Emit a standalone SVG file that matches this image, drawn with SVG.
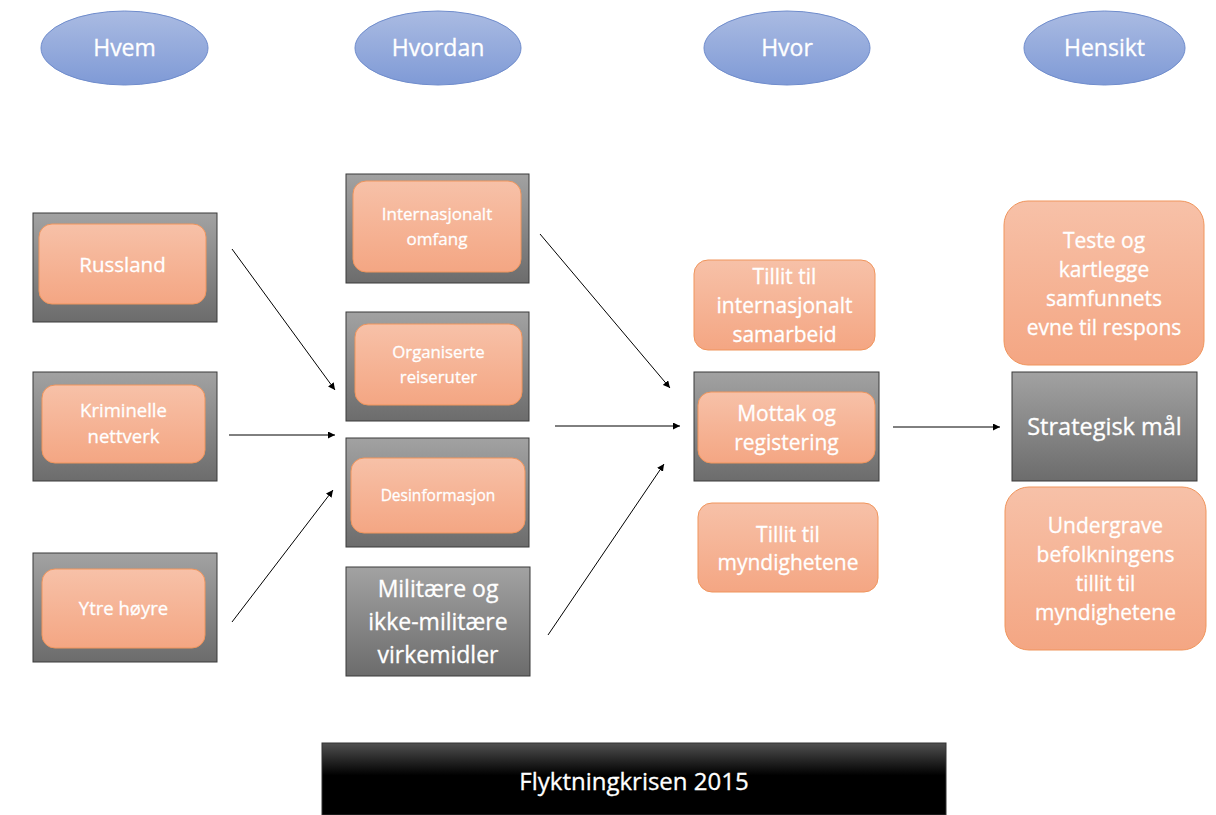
<svg xmlns="http://www.w3.org/2000/svg" width="1216" height="815" viewBox="0 0 1216 815">
<defs>
<linearGradient id="gGray" x1="0" y1="0" x2="0" y2="1"><stop offset="0" stop-color="#a2a2a2"/><stop offset="1" stop-color="#6c6c6c"/></linearGradient>
<linearGradient id="gOr" x1="0" y1="0" x2="0" y2="1"><stop offset="0" stop-color="#f7c1a8"/><stop offset="1" stop-color="#f4a683"/></linearGradient>
<linearGradient id="gBl" x1="0" y1="0" x2="0" y2="1"><stop offset="0" stop-color="#aabbe2"/><stop offset="1" stop-color="#7f9ad6"/></linearGradient>
<linearGradient id="gBk" x1="0" y1="0" x2="0" y2="1"><stop offset="0" stop-color="#505050"/><stop offset="0.45" stop-color="#000"/><stop offset="1" stop-color="#000"/></linearGradient>
<marker id="ah" viewBox="0 0 10 10" refX="10" refY="5" markerWidth="7" markerHeight="7" orient="auto" markerUnits="userSpaceOnUse"><path d="M0,0 L10,5 L0,10 z" fill="#000"/></marker>
</defs>
<style>
.gray{fill:url(#gGray);stroke:#3a3a3a;stroke-width:1}
.or{fill:url(#gOr);stroke:#f0955c;stroke-width:1}
.el{fill:url(#gBl);stroke:#6f8ccc;stroke-width:1}
.t{font-family:"Open Sans","Liberation Sans",sans-serif;fill:#fff;stroke:#fff;stroke-width:0.3;text-anchor:middle}
.conn line{stroke:#000;stroke-width:1;marker-end:url(#ah)}
</style>
<rect width="1216" height="815" fill="#fff"/>

<g id="hvem"><ellipse class="el" cx="124.5" cy="48" rx="83.5" ry="37"/><text class="t" x="124.5" y="56" font-size="23">Hvem</text></g>
<g id="hvordan"><ellipse class="el" cx="438" cy="48" rx="83" ry="37"/><text class="t" x="438" y="56" font-size="23">Hvordan</text></g>
<g id="hvor"><ellipse class="el" cx="787" cy="48" rx="83" ry="37"/><text class="t" x="787" y="56" font-size="23">Hvor</text></g>
<g id="hensikt"><ellipse class="el" cx="1104.5" cy="48" rx="80.5" ry="37"/><text class="t" x="1104.5" y="56" font-size="23">Hensikt</text></g>

<g id="russland"><rect class="gray" x="33" y="213" width="184" height="109"/><rect class="or" x="39" y="224" width="167" height="80" rx="13"/><text class="t" x="122.5" y="272" font-size="20.5">Russland</text></g>
<g id="kriminelle"><rect class="gray" x="33" y="372" width="184" height="109"/><rect class="or" x="42" y="385" width="163" height="78" rx="13"/><text class="t" x="123.5" y="417" font-size="18.5">Kriminelle</text><text class="t" x="123.5" y="443" font-size="18.5">nettverk</text></g>
<g id="ytre"><rect class="gray" x="33" y="553" width="184" height="109"/><rect class="or" x="42" y="569" width="163" height="79" rx="13"/><text class="t" x="123.5" y="615" font-size="18.5">Ytre høyre</text></g>

<g id="internasjonalt"><rect class="gray" x="346" y="174" width="183" height="109"/><rect class="or" x="353" y="181" width="168" height="91" rx="13"/><text class="t" x="437" y="220" font-size="17">Internasjonalt</text><text class="t" x="437" y="245" font-size="17">omfang</text></g>
<g id="organiserte"><rect class="gray" x="346" y="312" width="183" height="109"/><rect class="or" x="355" y="324" width="167" height="81" rx="13"/><text class="t" x="438.5" y="358" font-size="16.8">Organiserte</text><text class="t" x="438.5" y="383" font-size="16.8">reiseruter</text></g>
<g id="desinformasjon"><rect class="gray" x="346" y="438" width="183" height="109"/><rect class="or" x="351" y="458" width="174" height="75" rx="13"/><text class="t" x="438" y="501" font-size="15.5">Desinformasjon</text></g>
<g id="militaere"><rect class="gray" x="346" y="567" width="184" height="109"/><text class="t" x="438" y="597" font-size="23">Militære og</text><text class="t" x="438" y="630" font-size="23">ikke-militære</text><text class="t" x="438" y="663" font-size="23">virkemidler</text></g>

<g id="tillit-int"><rect class="or" x="694" y="260" width="181" height="90" rx="14"/><text class="t" x="784.5" y="284" font-size="21">Tillit til</text><text class="t" x="784.5" y="313" font-size="21">internasjonalt</text><text class="t" x="784.5" y="342" font-size="21">samarbeid</text></g>
<g id="mottak"><rect class="gray" x="694" y="372" width="185" height="109"/><rect class="or" x="698" y="392" width="177" height="71" rx="13"/><text class="t" x="786.5" y="421" font-size="21">Mottak og</text><text class="t" x="786.5" y="450" font-size="21">registering</text></g>
<g id="tillit-myn"><rect class="or" x="698" y="503" width="180" height="89" rx="14"/><text class="t" x="788" y="542" font-size="21">Tillit til</text><text class="t" x="788" y="570" font-size="21">myndighetene</text></g>

<g id="teste"><rect class="or" x="1004" y="201" width="200" height="164" rx="24"/><text class="t" x="1104" y="248" font-size="21">Teste og</text><text class="t" x="1104" y="277" font-size="21">kartlegge</text><text class="t" x="1104" y="306" font-size="21">samfunnets</text><text class="t" x="1104" y="335" font-size="21">evne til respons</text></g>
<g id="strategisk"><rect class="gray" x="1012" y="372" width="185" height="109"/><text class="t" x="1104.5" y="435" font-size="23.5">Strategisk mål</text></g>
<g id="undergrave"><rect class="or" x="1005" y="487" width="201" height="163" rx="24"/><text class="t" x="1105.5" y="533" font-size="21">Undergrave</text><text class="t" x="1105.5" y="562" font-size="21">befolkningens</text><text class="t" x="1105.5" y="591" font-size="21">tillit til</text><text class="t" x="1105.5" y="620" font-size="21">myndighetene</text></g>

<g id="flyktningkrisen"><rect x="322" y="743" width="624" height="72" fill="url(#gBk)" stroke="#333" stroke-width="1"/><text class="t" x="634" y="790" font-size="24">Flyktningkrisen 2015</text></g>

<g id="connectors" class="conn">
<line x1="232" y1="249" x2="335" y2="390"/>
<line x1="229" y1="435" x2="335" y2="435"/>
<line x1="232" y1="622" x2="333" y2="490"/>
<line x1="540" y1="234" x2="670" y2="388"/>
<line x1="555" y1="426" x2="680" y2="426"/>
<line x1="548" y1="635" x2="664" y2="464"/>
<line x1="893" y1="427" x2="1000" y2="427"/>
</g>
</svg>
